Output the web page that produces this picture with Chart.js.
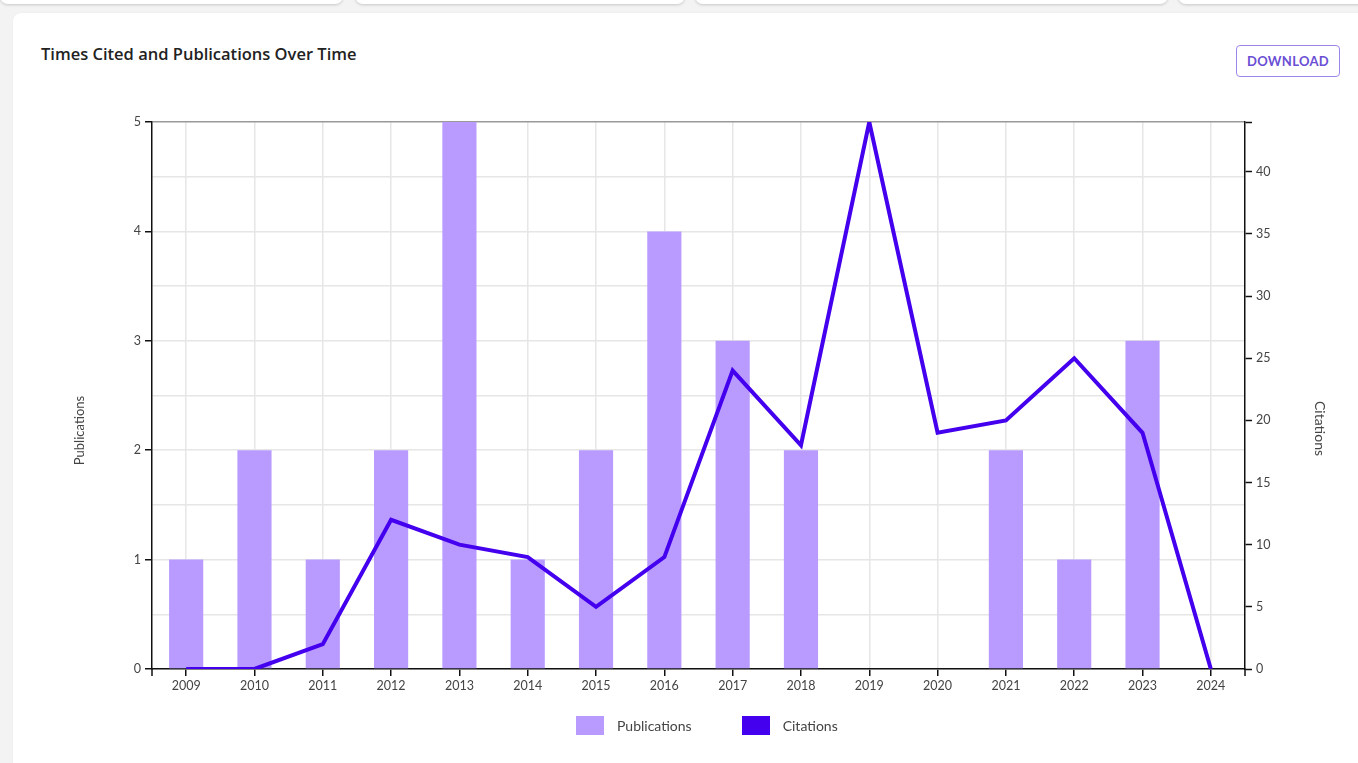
<!DOCTYPE html>
<html>
<head>
<meta charset="utf-8">
<script src="https://cdn.jsdelivr.net/npm/chart.js@4.4.1/dist/chart.umd.min.js"></script>
<style>
  body { margin: 0; background: #f3f3f3; width: 1358px; height: 763px; overflow: hidden; font-family: Lato, "Open Sans", sans-serif; position: relative; }
  .topcard { position: absolute; top: -12px; height: 16px; background: #fff; border-radius: 0 0 8px 8px; box-shadow: 0 1px 3px rgba(0,0,0,0.18); }
  .card { position: absolute; left: 13px; top: 13px; width: 1360px; height: 770px; background: #fff; border-radius: 8px; box-shadow: 0 0 2px rgba(0,0,0,0.06); }
  h3 { position: absolute; left: 41px; top: 42px; margin: 0; font: 600 16.5px "Open Sans", sans-serif; color: #222; }
  .btn { position: absolute; left: 1236px; top: 45px; width: 104px; height: 32px; box-sizing: border-box; border: 1.5px solid #9f85ea; border-radius: 4px; background: #fff; color: #6a4ed4; font: 700 13px Lato, sans-serif; letter-spacing: 0.3px; display: flex; align-items: center; justify-content: center; }
  #wrap { position: absolute; left: 0; top: 0; width: 1358px; height: 763px; }
  #legend { position: absolute; left: 576px; top: 716px; display: flex; gap: 50px; font: 14px Lato, sans-serif; color: #444; }
  #legend .item { display: flex; align-items: center; gap: 13px; height: 19px; }
  #legend .box { width: 28px; height: 19px; box-sizing: border-box; }
</style>
</head>
<body>
<div class="topcard" style="left:0;width:343px"></div>
<div class="topcard" style="left:355px;width:330px"></div>
<div class="topcard" style="left:695px;width:473px"></div>
<div class="topcard" style="left:1178px;width:200px"></div>
<div class="card"></div>
<h3>Times Cited and Publications Over Time</h3>
<div class="btn">DOWNLOAD</div>
<div id="wrap"><canvas id="chart"></canvas></div>
<div id="legend"></div>
<script>
const years = ["2009", "2010", "2011", "2012", "2013", "2014", "2015", "2016", "2017", "2018", "2019", "2020", "2021", "2022", "2023", "2024"];
const publications = [1, 2, 1, 2, 5, 1, 2, 4, 3, 2, 0, 0, 2, 1, 3, 0];
const citations = [0, 0, 2, 12, 10, 9, 5, 9, 24, 18, 44, 19, 20, 25, 19, 0];
const pubTicks = [0, 1, 2, 3, 4, 5];
const citeTicks = [0, 5, 10, 15, 20, 25, 30, 35, 40];

const barColor = "#b99bff";
const lineColor = "#4400ee";
const textColor = "#444";

// D3-style outer ticks at the x axis ends, and the axis titles (sit a bit below centre)
const axisExtras = {
  id: "axisExtras",
  afterDraw(chart) {
    const { ctx } = chart;
    const x = chart.scales.x;
    const y = chart.scales.y;
    ctx.save();
    ctx.strokeStyle = "#111";
    ctx.lineWidth = 1.5;
    ctx.beginPath();
    [x.left, x.right].forEach(px => {
      ctx.moveTo(px, x.top);
      ctx.lineTo(px, x.top + 7);
    });
    ctx.stroke();

    const mid = (y.top + y.bottom) / 2 + 35;
    ctx.fillStyle = textColor;
    ctx.textAlign = "center";
    ctx.textBaseline = "middle";
    ctx.font = "13px Lato";
    ctx.translate(80, mid);
    ctx.rotate(-Math.PI / 2);
    ctx.fillText("Publications", 0, 0);
    ctx.setTransform(1, 0, 0, 1, 0, 0);
    ctx.scale(chart.currentDevicePixelRatio, chart.currentDevicePixelRatio);
    ctx.font = "14px Lato";
    ctx.translate(1320, mid - 2);
    ctx.rotate(Math.PI / 2);
    ctx.fillText("Citations", 0, 0);
    ctx.restore();
  }
};

// html legend built from the datasets
const htmlLegend = {
  id: "htmlLegend",
  afterUpdate(chart) {
    const box = document.getElementById("legend");
    box.innerHTML = "";
    chart.data.datasets.forEach(ds => {
      const item = document.createElement("div");
      item.className = "item";
      const sw = document.createElement("span");
      sw.className = "box";
      sw.style.background = ds.backgroundColor;
      const label = document.createElement("span");
      label.textContent = ds.label;
      item.appendChild(sw);
      item.appendChild(label);
      box.appendChild(item);
    });
  }
};

new Chart(document.getElementById("chart"), {
  data: {
    labels: years,
    datasets: [
      {
        type: "bar",
        label: "Publications",
        data: publications,
        yAxisID: "y",
        backgroundColor: barColor,
        borderWidth: 0,
        barPercentage: 0.5,
        categoryPercentage: 1,
        order: 2
      },
      {
        type: "line",
        label: "Citations",
        data: citations,
        yAxisID: "y1",
        borderColor: lineColor,
        backgroundColor: lineColor,
        borderWidth: 4,
        pointRadius: 0,
        tension: 0,
        order: 1
      }
    ]
  },
  options: {
    responsive: true,
    maintainAspectRatio: false,
    animation: false,
    layout: { padding: { top: 122, left: 62, right: 22, bottom: 54 } },
    plugins: {
      title: { display: false },
      tooltip: { enabled: false },
      legend: { display: false }
    },
    scales: {
      x: {
        offset: true,
        afterFit: s => { s.height = 40; },
        grid: {
          offset: false,
          color: "#e6e6e6",
          lineWidth: 1.5,
          tickColor: "#111",
          tickLength: 7,
          tickWidth: 1.5
        },
        border: { color: "#111", width: 1.5 },
        ticks: { color: textColor, font: { family: "Lato", size: 12.5 }, padding: 2, maxRotation: 0 }
      },
      y: {
        position: "left",
        min: 0,
        max: 5,
        afterFit: s => { s.width = 90; },
        grid: {
          color: c => c.tick && c.tick.value === 5 ? "#999" : "#e6e6e6",
          lineWidth: 1.5,
          tickColor: c => c.tick && pubTicks.includes(c.tick.value) ? "#111" : "rgba(0,0,0,0)",
          tickLength: 7,
          tickWidth: 1.5
        },
        border: { color: "#111", width: 1.5 },
        ticks: {
          stepSize: 0.5,
          color: textColor,
          font: { family: "Lato", size: 12.5 },
          padding: 4,
          callback: v => pubTicks.includes(v) ? String(v) : ""
        }
      },
      y1: {
        position: "right",
        min: 0,
        max: 44,
        afterFit: s => { s.width = 91; },
        grid: {
          drawOnChartArea: false,
          tickColor: "#111",
          tickLength: 7,
          tickWidth: 1.5
        },
        border: { color: "#111", width: 1.5 },
        ticks: {
          stepSize: 5,
          color: textColor,
          font: { family: "Lato", size: 12.5 },
          padding: 4,
          callback: v => citeTicks.includes(v) ? String(v) : ""
        }
      }
    }
  },
  plugins: [axisExtras, htmlLegend]
});
</script>
</body>
</html>
